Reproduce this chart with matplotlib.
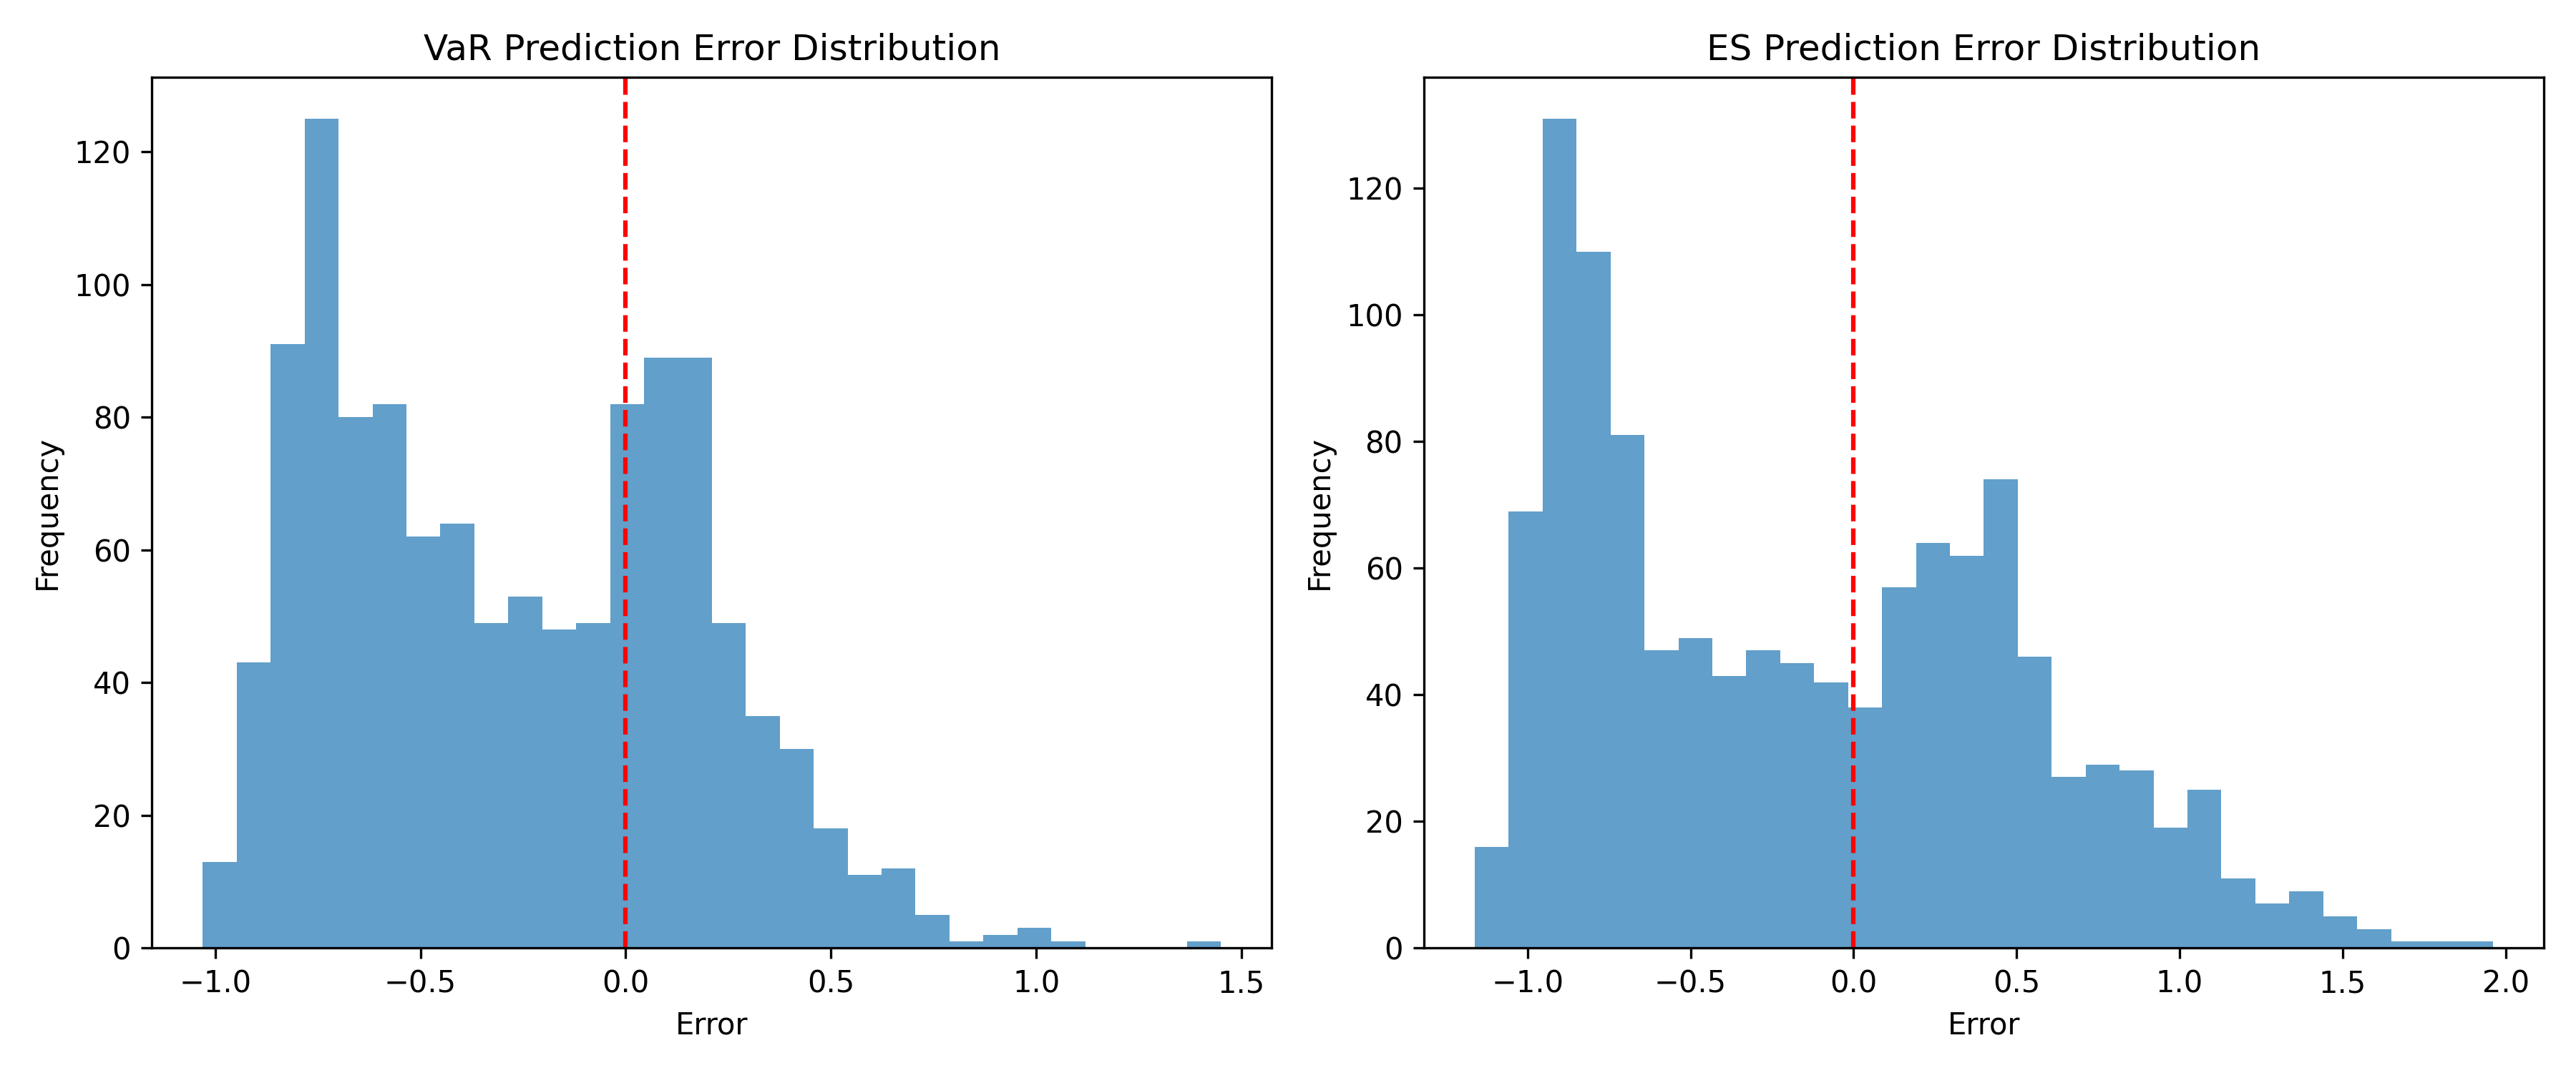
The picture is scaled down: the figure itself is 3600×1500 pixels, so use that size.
#!/usr/bin/env python3

# VaR / ES prediction error histograms

import numpy as np
import matplotlib
matplotlib.use("Agg")
import matplotlib.pyplot as plt

# bin range and counts
var_lo, var_hi = -1.030, 1.450
var_counts = [13, 43, 91, 125, 80, 82, 62, 64, 49, 53, 48, 49, 82, 89, 89,
              49, 35, 30, 18, 11, 12, 5, 1, 2, 3, 1, 0, 0, 0, 1]

es_lo, es_hi = -1.162, 1.961
es_counts = [16, 69, 131, 110, 81, 47, 49, 43, 47, 45, 42, 38, 57, 64, 62,
             74, 46, 27, 29, 28, 19, 25, 11, 7, 9, 5, 3, 1, 1, 1]

panels = [
	("VaR Prediction Error Distribution", var_lo, var_hi, var_counts),
	("ES Prediction Error Distribution", es_lo, es_hi, es_counts),
]

fig, axes = plt.subplots(1, 2, figsize=(12, 5), dpi=300)

for ax, (title, lo, hi, counts) in zip(axes, panels):
	edges = np.linspace(lo, hi, len(counts) + 1)
	centers = (edges[:-1] + edges[1:]) / 2
	ax.hist(centers, bins=edges, weights=counts, alpha=0.7)
	ax.axvline(0, color="red", linestyle="--")
	ax.set_title(title)
	ax.set_xlabel("Error")
	ax.set_ylabel("Frequency")

plt.tight_layout()
plt.savefig("out.png")
plt.close()
